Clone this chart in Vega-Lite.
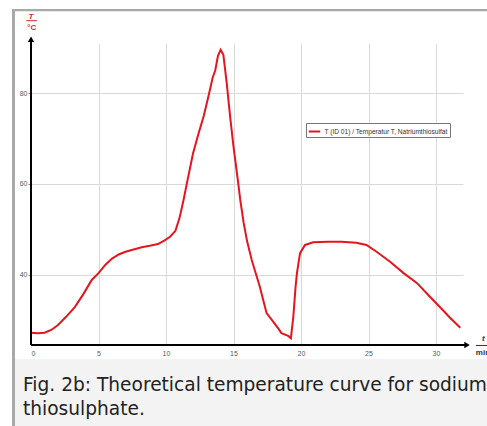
{
  "$schema": "https://vega.github.io/schema/vega-lite/v6.json",
  "width": 432,
  "height": 302,
  "autosize": {"type": "none"},
  "padding": {"left": 31, "top": 43, "right": 24, "bottom": 81},
  "background": "white",
  "config": {"view": {"stroke": null}},
  "datasets": {
    "one": [{}],
    "curve": [
      {"t": 0, "T": 27.3, "series": "T (ID 01) / Temperatur T, Natriumthiosulfat"},
      {"t": 0.5, "T": 27.2, "series": "T (ID 01) / Temperatur T, Natriumthiosulfat"},
      {"t": 1.0, "T": 27.3, "series": "T (ID 01) / Temperatur T, Natriumthiosulfat"},
      {"t": 1.5, "T": 27.9, "series": "T (ID 01) / Temperatur T, Natriumthiosulfat"},
      {"t": 2.0, "T": 29.0, "series": "T (ID 01) / Temperatur T, Natriumthiosulfat"},
      {"t": 2.6, "T": 30.8, "series": "T (ID 01) / Temperatur T, Natriumthiosulfat"},
      {"t": 3.26, "T": 33.0, "series": "T (ID 01) / Temperatur T, Natriumthiosulfat"},
      {"t": 3.9, "T": 35.9, "series": "T (ID 01) / Temperatur T, Natriumthiosulfat"},
      {"t": 4.5, "T": 38.9, "series": "T (ID 01) / Temperatur T, Natriumthiosulfat"},
      {"t": 5.0, "T": 40.4, "series": "T (ID 01) / Temperatur T, Natriumthiosulfat"},
      {"t": 5.5, "T": 42.2, "series": "T (ID 01) / Temperatur T, Natriumthiosulfat"},
      {"t": 6.0, "T": 43.6, "series": "T (ID 01) / Temperatur T, Natriumthiosulfat"},
      {"t": 6.5, "T": 44.5, "series": "T (ID 01) / Temperatur T, Natriumthiosulfat"},
      {"t": 7.0, "T": 45.1, "series": "T (ID 01) / Temperatur T, Natriumthiosulfat"},
      {"t": 7.6, "T": 45.6, "series": "T (ID 01) / Temperatur T, Natriumthiosulfat"},
      {"t": 8.2, "T": 46.1, "series": "T (ID 01) / Temperatur T, Natriumthiosulfat"},
      {"t": 8.8, "T": 46.4, "series": "T (ID 01) / Temperatur T, Natriumthiosulfat"},
      {"t": 9.4, "T": 46.8, "series": "T (ID 01) / Temperatur T, Natriumthiosulfat"},
      {"t": 9.9, "T": 47.6, "series": "T (ID 01) / Temperatur T, Natriumthiosulfat"},
      {"t": 10.3, "T": 48.4, "series": "T (ID 01) / Temperatur T, Natriumthiosulfat"},
      {"t": 10.7, "T": 49.7, "series": "T (ID 01) / Temperatur T, Natriumthiosulfat"},
      {"t": 11.0, "T": 52.5, "series": "T (ID 01) / Temperatur T, Natriumthiosulfat"},
      {"t": 11.3, "T": 56.5, "series": "T (ID 01) / Temperatur T, Natriumthiosulfat"},
      {"t": 11.55, "T": 60.2, "series": "T (ID 01) / Temperatur T, Natriumthiosulfat"},
      {"t": 12.0, "T": 66.7, "series": "T (ID 01) / Temperatur T, Natriumthiosulfat"},
      {"t": 12.4, "T": 71.0, "series": "T (ID 01) / Temperatur T, Natriumthiosulfat"},
      {"t": 12.8, "T": 75.0, "series": "T (ID 01) / Temperatur T, Natriumthiosulfat"},
      {"t": 13.2, "T": 80.0, "series": "T (ID 01) / Temperatur T, Natriumthiosulfat"},
      {"t": 13.45, "T": 83.3, "series": "T (ID 01) / Temperatur T, Natriumthiosulfat"},
      {"t": 13.65, "T": 85.0, "series": "T (ID 01) / Temperatur T, Natriumthiosulfat"},
      {"t": 13.85, "T": 88.2, "series": "T (ID 01) / Temperatur T, Natriumthiosulfat"},
      {"t": 14.05, "T": 89.5, "series": "T (ID 01) / Temperatur T, Natriumthiosulfat"},
      {"t": 14.25, "T": 88.4, "series": "T (ID 01) / Temperatur T, Natriumthiosulfat"},
      {"t": 14.5, "T": 82.1, "series": "T (ID 01) / Temperatur T, Natriumthiosulfat"},
      {"t": 14.75, "T": 74.8, "series": "T (ID 01) / Temperatur T, Natriumthiosulfat"},
      {"t": 15.0, "T": 68.2, "series": "T (ID 01) / Temperatur T, Natriumthiosulfat"},
      {"t": 15.35, "T": 60.2, "series": "T (ID 01) / Temperatur T, Natriumthiosulfat"},
      {"t": 15.5, "T": 56.5, "series": "T (ID 01) / Temperatur T, Natriumthiosulfat"},
      {"t": 15.75, "T": 51.5, "series": "T (ID 01) / Temperatur T, Natriumthiosulfat"},
      {"t": 16.0, "T": 47.5, "series": "T (ID 01) / Temperatur T, Natriumthiosulfat"},
      {"t": 16.35, "T": 43.3, "series": "T (ID 01) / Temperatur T, Natriumthiosulfat"},
      {"t": 16.95, "T": 37.4, "series": "T (ID 01) / Temperatur T, Natriumthiosulfat"},
      {"t": 17.2, "T": 34.5, "series": "T (ID 01) / Temperatur T, Natriumthiosulfat"},
      {"t": 17.45, "T": 31.6, "series": "T (ID 01) / Temperatur T, Natriumthiosulfat"},
      {"t": 17.95, "T": 29.7, "series": "T (ID 01) / Temperatur T, Natriumthiosulfat"},
      {"t": 18.3, "T": 28.3, "series": "T (ID 01) / Temperatur T, Natriumthiosulfat"},
      {"t": 18.55, "T": 27.2, "series": "T (ID 01) / Temperatur T, Natriumthiosulfat"},
      {"t": 19.05, "T": 26.6, "series": "T (ID 01) / Temperatur T, Natriumthiosulfat"},
      {"t": 19.25, "T": 26.1, "series": "T (ID 01) / Temperatur T, Natriumthiosulfat"},
      {"t": 19.43, "T": 30.8, "series": "T (ID 01) / Temperatur T, Natriumthiosulfat"},
      {"t": 19.6, "T": 37.5, "series": "T (ID 01) / Temperatur T, Natriumthiosulfat"},
      {"t": 19.7, "T": 40.4, "series": "T (ID 01) / Temperatur T, Natriumthiosulfat"},
      {"t": 19.93, "T": 44.8, "series": "T (ID 01) / Temperatur T, Natriumthiosulfat"},
      {"t": 20.3, "T": 46.6, "series": "T (ID 01) / Temperatur T, Natriumthiosulfat"},
      {"t": 20.9, "T": 47.2, "series": "T (ID 01) / Temperatur T, Natriumthiosulfat"},
      {"t": 22.0, "T": 47.3, "series": "T (ID 01) / Temperatur T, Natriumthiosulfat"},
      {"t": 23.0, "T": 47.3, "series": "T (ID 01) / Temperatur T, Natriumthiosulfat"},
      {"t": 24.1, "T": 47.1, "series": "T (ID 01) / Temperatur T, Natriumthiosulfat"},
      {"t": 24.85, "T": 46.6, "series": "T (ID 01) / Temperatur T, Natriumthiosulfat"},
      {"t": 25.6, "T": 45.1, "series": "T (ID 01) / Temperatur T, Natriumthiosulfat"},
      {"t": 26.6, "T": 42.9, "series": "T (ID 01) / Temperatur T, Natriumthiosulfat"},
      {"t": 27.6, "T": 40.4, "series": "T (ID 01) / Temperatur T, Natriumthiosulfat"},
      {"t": 28.6, "T": 38.2, "series": "T (ID 01) / Temperatur T, Natriumthiosulfat"},
      {"t": 29.55, "T": 35.2, "series": "T (ID 01) / Temperatur T, Natriumthiosulfat"},
      {"t": 30.5, "T": 32.3, "series": "T (ID 01) / Temperatur T, Natriumthiosulfat"},
      {"t": 31.0, "T": 30.7, "series": "T (ID 01) / Temperatur T, Natriumthiosulfat"},
      {"t": 31.8, "T": 28.4, "series": "T (ID 01) / Temperatur T, Natriumthiosulfat"}
    ]
  },
  "layer": [
    {
      "data": {"name": "one"},
      "mark": {"type": "rect", "color": "#f3f3f3", "clip": false},
      "encoding": {
        "x": {"datum": -1.185, "type": "quantitative", "scale": {"domain": [0, 32]}},
        "x2": {"datum": 36},
        "y": {"datum": 21.5, "type": "quantitative", "scale": {"domain": [24.6, 91]}},
        "y2": {"datum": 4}
      }
    },
    {
      "data": {"name": "one"},
      "mark": {"type": "rect", "color": "#a9a9a9", "clip": false},
      "encoding": {
        "x": {"datum": -1.407, "type": "quantitative"},
        "x2": {"datum": -1.185},
        "y": {"datum": 98.45, "type": "quantitative"},
        "y2": {"datum": 4}
      }
    },
    {
      "data": {"name": "one"},
      "mark": {"type": "rect", "color": "#a9a9a9", "clip": false},
      "encoding": {
        "x": {"datum": -1.407, "type": "quantitative"},
        "x2": {"datum": 36},
        "y": {"datum": 98.45, "type": "quantitative"},
        "y2": {"datum": 98.0}
      }
    },
    {
      "data": {"name": "curve"},
      "mark": {"type": "line", "strokeWidth": 2, "interpolate": "linear"},
      "encoding": {
        "x": {
          "field": "t",
          "type": "quantitative",
          "scale": {"domain": [0, 32], "nice": false, "zero": false},
          "axis": {
            "values": [0, 5, 10, 15, 20, 25, 30],
            "title": null,
            "domain": false,
            "grid": true,
            "gridColor": "#d9d9d9",
            "gridWidth": 1,
            "ticks": false,
            "labelFont": "Liberation Sans",
            "labelFontSize": 7,
            "labelColor": "#5a5a5a",
            "labelPadding": 4
          }
        },
        "y": {
          "field": "T",
          "type": "quantitative",
          "scale": {"domain": [24.6, 91], "nice": false, "zero": false},
          "axis": {
            "values": [40, 60, 80],
            "title": null,
            "domain": false,
            "grid": true,
            "gridColor": "#d9d9d9",
            "gridWidth": 1,
            "ticks": true,
            "tickSize": 3,
            "tickColor": "#888888",
            "labelFont": "Liberation Sans",
            "labelFontSize": 7,
            "labelColor": "#5a5a5a",
            "labelPadding": 1
          }
        },
        "color": {
          "field": "series",
          "type": "nominal",
          "scale": {"range": ["#e3151d"]},
          "legend": {
            "title": null,
            "orient": "none",
            "legendX": 275,
            "legendY": 80,
            "symbolType": "stroke",
            "symbolStrokeWidth": 2,
            "symbolSize": 130,
            "labelFont": "Liberation Sans",
            "labelFontSize": 6.6,
            "labelColor": "#333333",
            "strokeColor": "#777777",
            "fillColor": "white",
            "padding": 1.5,
            "labelOffset": 3
          }
        }
      }
    },
    {
      "data": {"name": "one"},
      "mark": {"type": "rule", "color": "black", "strokeWidth": 2, "clip": false},
      "encoding": {
        "x": {"datum": 0, "type": "quantitative"},
        "y": {"datum": 24.6, "type": "quantitative"},
        "y2": {"datum": 91.5}
      }
    },
    {
      "data": {"name": "one"},
      "mark": {"type": "rule", "color": "black", "strokeWidth": 2, "clip": false},
      "encoding": {
        "x": {"datum": 0, "type": "quantitative"},
        "x2": {"datum": 32.2},
        "y": {"datum": 24.6, "type": "quantitative"}
      }
    },
    {
      "data": {"name": "one"},
      "mark": {"type": "point", "shape": "triangle-up", "filled": true, "color": "black", "size": 40, "opacity": 1, "clip": false},
      "encoding": {
        "x": {"datum": 0, "type": "quantitative"},
        "y": {"datum": 91.8, "type": "quantitative"}
      }
    },
    {
      "data": {"name": "one"},
      "mark": {"type": "point", "shape": "triangle-right", "filled": true, "color": "black", "size": 40, "opacity": 1, "clip": false},
      "encoding": {
        "x": {"datum": 32.3, "type": "quantitative"},
        "y": {"datum": 24.6, "type": "quantitative"}
      }
    },
    {
      "data": {"name": "one"},
      "mark": {"type": "text", "text": "T", "font": "Liberation Sans", "fontSize": 8, "fontStyle": "italic", "fontWeight": "bold", "color": "#d42a2a", "baseline": "alphabetic", "align": "center"},
      "encoding": {
        "x": {"datum": 0, "type": "quantitative"},
        "y": {"datum": 96.3, "type": "quantitative"}
      }
    },
    {
      "data": {"name": "one"},
      "mark": {"type": "rule", "color": "#d42a2a", "strokeWidth": 1, "clip": false},
      "encoding": {
        "x": {"datum": -0.35, "type": "quantitative"},
        "x2": {"datum": 0.45},
        "y": {"datum": 95.9, "type": "quantitative"}
      }
    },
    {
      "data": {"name": "one"},
      "mark": {"type": "text", "text": "°C", "font": "Liberation Sans", "fontSize": 8, "fontWeight": "bold", "color": "#d42a2a", "baseline": "alphabetic", "align": "center"},
      "encoding": {
        "x": {"datum": 0.05, "type": "quantitative"},
        "y": {"datum": 93.9, "type": "quantitative"}
      }
    },
    {
      "data": {"name": "one"},
      "mark": {"type": "text", "text": "t", "font": "Liberation Sans", "fontSize": 8, "fontStyle": "italic", "fontWeight": "bold", "color": "#333333", "baseline": "alphabetic", "align": "center"},
      "encoding": {
        "x": {"datum": 33.5, "type": "quantitative"},
        "y": {"datum": 25.4, "type": "quantitative"}
      }
    },
    {
      "data": {"name": "one"},
      "mark": {"type": "rule", "color": "#333333", "strokeWidth": 1, "clip": false},
      "encoding": {
        "x": {"datum": 32.95, "type": "quantitative"},
        "x2": {"datum": 34.2},
        "y": {"datum": 24.5, "type": "quantitative"}
      }
    },
    {
      "data": {"name": "one"},
      "mark": {"type": "text", "text": "min", "font": "Liberation Sans", "fontSize": 8, "fontWeight": "bold", "color": "#333333", "baseline": "alphabetic", "align": "left"},
      "encoding": {
        "x": {"datum": 32.95, "type": "quantitative"},
        "y": {"datum": 22.5, "type": "quantitative"}
      }
    },
    {
      "data": {"name": "one"},
      "mark": {"type": "text", "text": "Fig. 2b: Theoretical temperature curve for sodium", "font": "DejaVu Sans", "fontSize": 18.6, "color": "#222222", "baseline": "alphabetic", "align": "left"},
      "encoding": {
        "x": {"datum": -0.593, "type": "quantitative"},
        "y": {"datum": 14.49, "type": "quantitative"}
      }
    },
    {
      "data": {"name": "one"},
      "mark": {"type": "text", "text": "thiosulphate.", "font": "DejaVu Sans", "fontSize": 18.6, "color": "#222222", "baseline": "alphabetic", "align": "left"},
      "encoding": {
        "x": {"datum": -0.593, "type": "quantitative"},
        "y": {"datum": 9.22, "type": "quantitative"}
      }
    }
  ]
}
